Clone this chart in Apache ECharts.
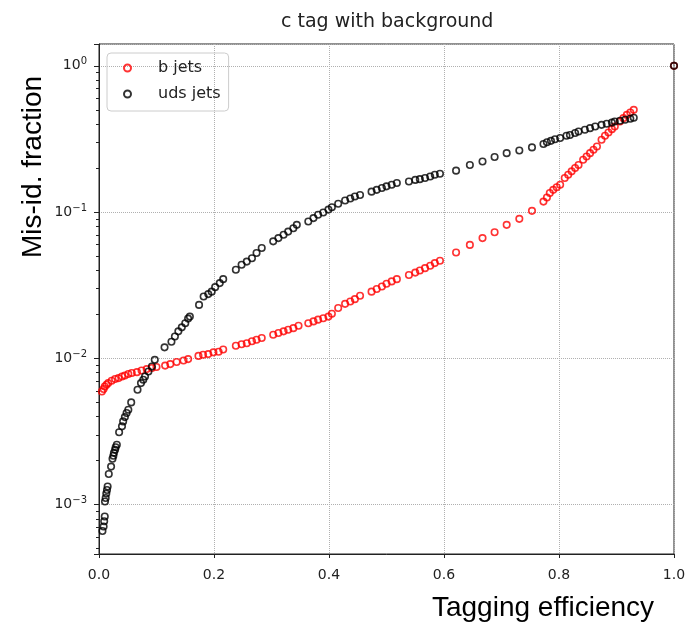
<!DOCTYPE html>
<html>
<head>
<meta charset="utf-8">
<script src="https://cdn.jsdelivr.net/npm/echarts@6/dist/echarts.min.js"></script>
<style>
  html, body { margin: 0; padding: 0; background: #fff; }
  #chart { width: 689px; height: 624px; }
</style>
</head>
<body>
<div id="chart"></div>
<script>
// b jets (red)
const bX = [0.005,0.008,0.010,0.013,0.016,0.022,0.028,0.034,0.040,0.045,0.051,0.057,0.066,0.074,0.083,0.092,0.100,0.115,0.124,0.135,0.147,0.155,0.173,0.181,0.190,0.199,0.208,0.216,0.238,0.248,0.257,0.266,0.274,0.283,0.303,0.312,0.321,0.329,0.338,0.347,0.364,0.373,0.381,0.390,0.399,0.405,0.416,0.428,0.437,0.445,0.454,0.474,0.483,0.492,0.500,0.509,0.518,0.539,0.550,0.558,0.567,0.576,0.584,0.593,0.621,0.645,0.667,0.688,0.709,0.731,0.753,0.773,0.779,0.784,0.790,0.796,0.802,0.810,0.816,0.822,0.828,0.834,0.842,0.848,0.854,0.860,0.866,0.874,0.880,0.886,0.892,0.897,0.906,0.912,0.918,0.924,0.930,1.0]
const bY = [0.00594,0.00617,0.00643,0.00661,0.00678,0.00703,0.00723,0.00733,0.00752,0.00764,0.00782,0.00794,0.00805,0.00826,0.00845,0.00859,0.00873,0.00893,0.00914,0.00944,0.00968,0.00989,0.0104,0.0106,0.0107,0.0110,0.0111,0.0115,0.0122,0.0125,0.0127,0.0131,0.0134,0.0138,0.0145,0.0149,0.0153,0.0157,0.0161,0.0167,0.0174,0.0179,0.0184,0.0188,0.0193,0.0202,0.0221,0.0236,0.0245,0.0254,0.0268,0.0286,0.0298,0.0310,0.0324,0.0336,0.0348,0.0372,0.0386,0.0399,0.0414,0.0430,0.0448,0.0465,0.0530,0.0597,0.0664,0.0729,0.0818,0.0899,0.102,0.118,0.126,0.135,0.142,0.148,0.154,0.171,0.180,0.190,0.200,0.210,0.228,0.240,0.253,0.267,0.281,0.312,0.333,0.350,0.369,0.385,0.416,0.439,0.462,0.480,0.500,1.0]

// uds jets (black)
const uX = [0.006,0.008,0.009,0.010,0.0104,0.0116,0.0127,0.0139,0.015,0.017,0.021,0.0235,0.025,0.026,0.028,0.029,0.031,0.035,0.040,0.042,0.045,0.048,0.051,0.056,0.067,0.073,0.077,0.080,0.086,0.092,0.097,0.114,0.126,0.132,0.138,0.144,0.150,0.155,0.158,0.174,0.182,0.190,0.196,0.202,0.210,0.216,0.238,0.248,0.257,0.266,0.274,0.283,0.303,0.312,0.321,0.329,0.338,0.344,0.364,0.373,0.381,0.390,0.399,0.405,0.416,0.428,0.437,0.445,0.454,0.474,0.483,0.492,0.500,0.509,0.518,0.539,0.550,0.558,0.567,0.576,0.584,0.593,0.621,0.645,0.667,0.688,0.709,0.731,0.753,0.773,0.779,0.786,0.793,0.802,0.813,0.819,0.828,0.834,0.845,0.854,0.863,0.874,0.883,0.892,0.897,0.906,0.915,0.924,0.930,1.0]
const uY = [0.00066,0.00071,0.00077,0.00083,0.00105,0.00111,0.00119,0.00126,0.00133,0.00162,0.00182,0.00206,0.00216,0.00226,0.00237,0.00247,0.00257,0.00313,0.00343,0.00371,0.00397,0.00423,0.00446,0.0050,0.0061,0.00678,0.00714,0.00752,0.00813,0.00881,0.00977,0.0119,0.0130,0.0141,0.0153,0.0163,0.0174,0.0187,0.0193,0.0232,0.0265,0.0275,0.0286,0.0307,0.0327,0.0348,0.0404,0.0437,0.0459,0.0484,0.0525,0.0568,0.0631,0.0664,0.0700,0.0736,0.0776,0.0818,0.0863,0.0910,0.0959,0.0993,0.104,0.108,0.114,0.120,0.124,0.128,0.131,0.138,0.142,0.146,0.150,0.154,0.158,0.162,0.166,0.168,0.171,0.175,0.180,0.183,0.192,0.210,0.222,0.238,0.253,0.264,0.277,0.292,0.300,0.307,0.315,0.321,0.333,0.337,0.347,0.356,0.366,0.375,0.385,0.395,0.402,0.409,0.416,0.421,0.428,0.435,0.442,1.0]

const seriesNames = ['b jets', 'uds jets']
const xTicks = [0, 0.2, 0.4, 0.6, 0.8, 1.0]
// log minor ticks of the y axis
const yMinor = [5e-4,6e-4,7e-4,8e-4,9e-4, 2e-3,3e-3,4e-3,5e-3,6e-3,7e-3,8e-3,9e-3,
  0.02,0.03,0.04,0.05,0.06,0.07,0.08,0.09, 0.2,0.3,0.4,0.5,0.6,0.7,0.8,0.9]

const font = 'DejaVu Sans'
const yMin = 4.6e-4, yMax = 1.41
const chart = echarts.init(document.getElementById('chart'), null, { renderer: 'canvas' })

function scatter(name, xs, ys, color) {
  return {
    name, type: 'scatter',
    data: xs.map((x, i) => [x, ys[i]]),
    symbol: 'circle', symbolSize: 6.5,
    itemStyle: { color: 'rgba(0,0,0,0)', borderColor: color, borderWidth: 1.6 },
    emphasis: { disabled: true }
  }
}

chart.setOption({
  animation: false,
  title: {
    text: 'c tag with background', left: 276, top: 8,
    textStyle: { fontFamily: font, fontSize: 19, fontWeight: 'normal', color: '#222' }
  },
  legend: {
    orient: 'vertical', left: 107, top: 53,
    padding: [7, 8, 9, 16], itemGap: 10, itemWidth: 7, itemHeight: 7,
    borderColor: '#ccc', borderWidth: 1, borderRadius: 4,
    textStyle: { fontFamily: font, fontSize: 16, color: '#222', padding: [0, 0, 0, 22] },
    data: seriesNames
  },
  grid: { left: 99, right: 15, top: 44, bottom: 70, show: true, borderColor: '#222', borderWidth: 1 },
  xAxis: {
    type: 'value', min: 0, max: 1, interval: 0.2,
    axisLine: { show: true, lineStyle: { color: '#222' } },
    axisTick: { show: true, length: 4, lineStyle: { color: '#222' } },
    axisLabel: { fontFamily: font, fontSize: 14, color: '#222', margin: 14,
      formatter: v => xTicks.some(t => Math.abs(t - v) < 1e-9) ? v.toFixed(1) : '' },
    splitLine: { lineStyle: { type: 'dotted', color: '#b0b0b0' } }
  },
  yAxis: [{
    type: 'log', logBase: 10, min: yMin, max: yMax,
    axisLine: { show: true, lineStyle: { color: '#222' } },
    axisTick: { show: true, length: 5, lineStyle: { color: '#222' } },
    axisLabel: {
      margin: 12,
      formatter: v => {
        const e = Math.round(Math.log10(v))
        if (Math.abs(Math.log10(v) - e) > 1e-6) return ''
        return '{b|10}{s|' + (e < 0 ? '\u2212' + (-e) : e) + '}'
      },
      rich: {
        b: { fontFamily: font, fontSize: 14, color: '#222' },
        s: { fontFamily: font, fontSize: 10, color: '#222', verticalAlign: 'top', padding: [0, 0, 8, 0] }
      }
    },
    splitLine: { lineStyle: { type: 'dotted', color: '#b0b0b0' } }
  }, {
    // second copy of the axis only for the minor ticks
    type: 'log', logBase: 10, min: yMin, max: yMax, position: 'left',
    axisLine: { show: false },
    axisTick: { show: true, length: 3, customValues: yMinor, lineStyle: { color: '#222' } },
    axisLabel: { show: false },
    splitLine: { show: false }
  }],
  graphic: [
    { type: 'text', x: 33, y: 167, rotation: Math.PI / 2,
      style: { text: 'Mis-id. fraction', fontFamily: 'Liberation Sans', fontSize: 28, fill: '#000', align: 'center', verticalAlign: 'middle' } },
    { type: 'text', x: 543, y: 608,
      style: { text: 'Tagging efficiency', fontFamily: 'Liberation Sans', fontSize: 28, fill: '#000', align: 'center', verticalAlign: 'middle' } }
  ],
  series: [
    scatter(seriesNames[0], bX, bY, '#ff0000'),
    scatter(seriesNames[1], uX, uY, '#000000')
  ]
})
</script>
</body>
</html>
